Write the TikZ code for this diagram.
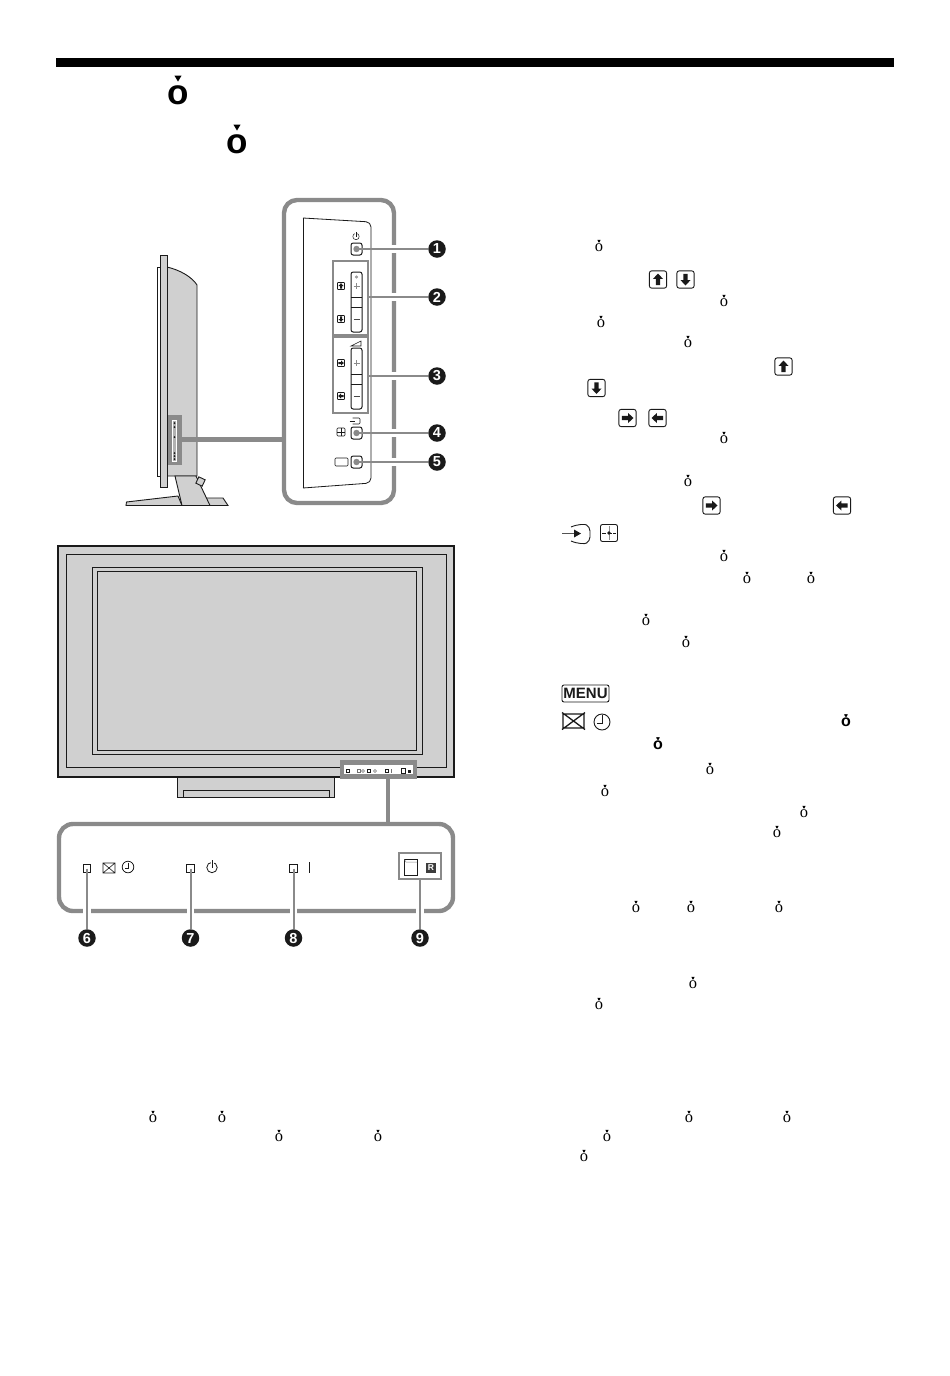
\documentclass[tikz,border=0pt]{standalone}
\usepackage{fontspec}
\setmainfont{Liberation Serif}
\newfontfamily\headfont{Liberation Sans}[BoldFont={Liberation Sans Bold}]
\usetikzlibrary{shapes.geometric}
\definecolor{callgrey}{HTML}{8A8A8A}
\definecolor{tvgrey}{HTML}{D0D0D0}
\definecolor{ink}{HTML}{1A1A1A}
\newcommand{\smallo}[2]{%
  \node[sm] (g) at (#1,#2) {ȯ};
  \fill[black] ([xshift=-1.6pt,yshift=.4pt]g.north) -- ([xshift=1.6pt,yshift=.4pt]g.north) -- ([yshift=-2.4pt]g.north) -- cycle;}
\newcommand{\boldo}[2]{%
  \node[smb] (g) at (#1,#2) {ȯ};
  \fill[black] ([xshift=-1.9pt,yshift=.6pt]g.north) -- ([xshift=1.9pt,yshift=.6pt]g.north) -- ([yshift=-2.6pt]g.north) -- cycle;}
\newcommand{\heado}[2]{%
  \node[hd] (g) at (#1,#2) {ȯ};
  \fill[white] ([xshift=-5pt,yshift=4pt]g.north) rectangle ([xshift=5pt,yshift=-5.5pt]g.north);
  \fill[black] ([xshift=-3.6pt,yshift=3.4pt]g.north) -- ([xshift=3.6pt,yshift=3.4pt]g.north) -- ([yshift=-2.6pt]g.north) -- cycle;}
\tikzset{
  x=1pt,y=-1pt,
  frameline/.style={draw=callgrey,line width=4.4pt},
  lead/.style={draw=callgrey,line width=2pt},
  leadhalo/.style={draw=white,line width=7.5pt},
  thick line/.style={draw=callgrey,line width=4.4pt},
  tvline/.style={draw=ink,line width=.9pt},
  numcircle/.style={circle,fill=ink,text=white,inner sep=0pt,minimum size=17.5pt,font=\headfont\bfseries\fontsize{14.5}{14.5}\selectfont},
  panelbtn/.style={rectangle,rounded corners=2.2pt,draw=ink,line width=1pt,fill=white,minimum width=11pt,minimum height=12pt,inner sep=0pt},
  led/.style={rectangle,draw=ink,line width=.8pt,fill=white,minimum width=7.5pt,minimum height=7.5pt,inner sep=0pt},
  sm/.style={inner sep=0pt,font=\fontsize{16.5}{16.5}\selectfont},
  smb/.style={inner sep=0pt,font=\headfont\bfseries\fontsize{16}{16}\selectfont},
  hd/.style={inner sep=0pt,font=\headfont\bfseries\fontsize{35}{35}\selectfont},
  keycap/.pic={
    \draw[draw=ink,line width=.9pt,rounded corners=2.2pt,fill=white] (-8.6,-8.6) rectangle (8.6,8.6);
    \fill[ink] (0,-6) -- (5,-.6) -- (2.2,-.6) -- (2.2,5.6) -- (-2.2,5.6) -- (-2.2,-.6) -- (-5,-.6) -- cycle;
  },
  minikey/.pic={
    \draw[draw=ink,line width=.6pt,fill=white,rounded corners=.6pt] (-3.5,-3.5) rectangle (3.5,3.5);
    \fill[ink] (0,-2.8) -- (2.6,0) -- (1,0) -- (1,2.6) -- (-1,2.6) -- (-1,0) -- (-2.6,0) -- cycle;
  }
}
\begin{document}
\begin{tikzpicture}
\useasboundingbox (0,0) rectangle (950,1376);
\fill[white] (0,0) rectangle (950,1376);
% top bar
\fill[black] (56,58) rectangle (894,67);
% heading glyphs
\heado{178}{92}
\heado{237}{141}

% ------------ side view of the set
\draw[tvline,fill=tvgrey] (167,267) .. controls (180,270) and (192,277) .. (197,285) -- (197,476) -- (167,476) -- cycle;
\draw[tvline,fill=tvgrey] (126,505.5) -- (126.5,502) -- (178,496) -- (182,505.5) -- cycle;
\draw[tvline,fill=tvgrey] (205,498) -- (223,498) -- (228,505.5) -- (209,505.5) -- cycle;
\draw[tvline,fill=tvgrey] (175,476) -- (182,505.5) -- (210,505.5) -- (196,476) -- cycle;
\draw[tvline,fill=tvgrey,rotate around={-25:(200.5,481.5)}] (197,478) rectangle (204,485);
\draw[tvline,fill=white,line width=.8pt] (157,267) rectangle (160,476);
\draw[tvline,fill=tvgrey] (160,255) rectangle (167.5,487);
\fill[callgrey] (168,415) rectangle (182,465);
\fill[white] (172,420) rectangle (177,462);
\fill[black!30] (173,421) rectangle (176,461);
\foreach \yy in {423,427,437,453,456,459}{\fill[ink] (174.5,\yy) circle (1);}
\coordinate (sidebox) at (182,439.5);

% ------------ side panel close-up
\draw[frameline,rounded corners=13pt] (284,200) rectangle (394,503);
\coordinate (panelleft) at (284,439.5);
\draw[thick line] (sidebox) -- (panelleft);
\draw[ink,line width=.8pt,rounded corners=5pt] (303,218) -- (371,222) -- (371,483) -- (303,488);
\draw[ink,line width=.8pt] (303,218) -- (303,488);

% callout boxes 2,3
\node[draw=callgrey,line width=2pt,rectangle,minimum width=35pt,minimum height=74pt,inner sep=0pt] (box2) at (350.5,298) {};
\node[draw=callgrey,line width=2pt,rectangle,minimum width=35pt,minimum height=76pt,inner sep=0pt] (box3) at (350.5,375) {};

% number circles
\node[numcircle] (n1) at (437,249) {1};
\node[numcircle] (n2) at (437,297) {2};
\node[numcircle] (n3) at (437,376) {3};
\node[numcircle] (n4) at (437,433) {4};
\node[numcircle] (n5) at (437,462) {5};

% buttons
\node[panelbtn] (b1) at (356.5,249) {};
\node[panelbtn] (b4) at (356.5,433) {};
\node[panelbtn] (b5) at (356.5,462) {};
% halos through the frame
\foreach \yy in {249,297,376,433,462}{\draw[leadhalo] (390,\yy) -- (398,\yy);}
\draw[lead] (b1.center) -- (n1);
\draw[lead] (box2.east|-n2) -- (n2);
\draw[lead] (box3.east|-n3) -- (n3);
\draw[lead] (b4.center) -- (n4);
\draw[lead] (b5.center) -- (n5);
\foreach \b in {b1,b4,b5}{\fill[callgrey] (\b) circle (3.2);}

% rockers
\draw[draw=ink,line width=1pt,rounded corners=2.2pt,fill=white] (351,272) rectangle (362,332);
\draw[ink,line width=.8pt] (351,297) -- (362,297) (351,307) -- (362,307);
\draw[draw=ink,line width=1pt,rounded corners=2.2pt,fill=white] (351,348) rectangle (362,409);
\draw[ink,line width=.8pt] (351,374) -- (362,374) (351,384) -- (362,384);
\foreach \yy in {286,363}{\draw[callgrey,line width=1pt] (353.5,\yy) -- (359.5,\yy) (356.5,\yy-3) -- (356.5,\yy+3);}
\foreach \yy in {319,396}{\draw[ink!80,line width=.9pt] (353.5,\yy) -- (359.5,\yy);}
\draw[callgrey,line width=.6pt] (356.5,277) circle (1.1);
\draw[ink,line width=.6pt] (351,346) -- (361,346) -- (361,341) -- cycle;
\pic at (341,286) {minikey};
\pic[rotate=180] at (341,319) {minikey};
\pic[rotate=-90] at (341,363) {minikey};
\pic[rotate=90] at (341,396) {minikey};

% power sign over button 1
\draw[ink,line width=.5pt] (356,236.5) circle (3.2);
\draw[white,line width=2pt] (356,232.5) -- (356,234.5);
\draw[ink,line width=.5pt] (356,232) -- (356,236.5);
% input sign over button 4
\draw[ink,line width=.6pt] (349.5,421) -- (355,421);
\draw[ink,line width=.6pt,rounded corners=1pt] (352.5,418) -- (360,418) -- (360,424) -- (352.5,424);
% square plus
\draw[ink,line width=.6pt,rounded corners=1pt] (337,428) rectangle (345,436);
\draw[ink,line width=.5pt] (341,428) -- (341,436) (337,432) -- (345,432);
% blank label
\draw[ink,line width=.6pt,rounded corners=1pt] (335,458) rectangle (348,466);

% ------------ front view of the set
\draw[draw=ink,line width=1pt,fill=tvgrey] (177.5,777) rectangle (334,797);
\draw[ink,line width=.7pt] (183,797) -- (183,790) -- (329,790) -- (329,797);
\draw[draw=ink,line width=1.1pt,fill=tvgrey] (58,546) rectangle (454,777);
\draw[ink,line width=.8pt] (66,554) rectangle (446,767);
\draw[ink,line width=.8pt] (92,567) rectangle (422,754);
\draw[ink,line width=.8pt] (97,571) rectangle (416,750);
\node[draw=callgrey,line width=4.4pt,fill=white,rectangle,minimum width=72.5pt,minimum height=14pt,inner sep=0pt] (frontbox) at (378.5,769.5) {};
\foreach \xx in {348,369,387}{\draw[ink,line width=.8pt] (\xx-1.3,769.7) rectangle (\xx+1.3,772.3);}
\draw[black!55,line width=.5pt] (357.5,769.5) rectangle (360.5,772.5);
\draw[black!55,line width=.5pt] (363,771) circle (1.5);
\draw[black!55,line width=.5pt] (375,771) circle (1.5);
\draw[black!55,line width=.5pt] (391,769) -- (391,773);
\draw[ink,line width=.6pt] (401,768.5) rectangle (405,773.5);
\fill[ink] (407.5,769.5) rectangle (410.5,772.5);

% ------------ front panel close-up
\draw[frameline,rounded corners=14pt] (59,824) rectangle (453,911);
\draw[thick line] (388,778) -- (388,822);
\node[led] (l6) at (87,868.5) {};
\node[led] (l7) at (190.5,868.5) {};
\node[led] (l8) at (293.5,868.5) {};
\node[draw=callgrey,line width=2pt,rectangle,minimum width=42pt,minimum height=26pt,inner sep=0pt] (box9) at (419.5,866) {};
\node[numcircle] (n6) at (87,938) {6};
\node[numcircle] (n7) at (190.5,938) {7};
\node[numcircle] (n8) at (293.5,938) {8};
\node[numcircle] (n9) at (420,938) {9};
\foreach \xx in {87,190.5,293.5,420}{\draw[leadhalo] (\xx,907) -- (\xx,915);}
\draw[lead] (l6.center) -- (n6);
\draw[lead] (l7.center) -- (n7);
\draw[lead] (l8.center) -- (n8);
\draw[lead] (box9.south-|n9) -- (n9);
% icons
\draw[ink,line width=.6pt] (103,863) rectangle (115,873) (103,863) -- (115,873) (103,873) -- (115,863);
\draw[ink,line width=.8pt] (128,867) circle (5.8);
\draw[ink,line width=.8pt] (128,862.5) -- (128,868) -- (124.5,868);
\draw[ink,line width=.8pt] (212,867.5) circle (5.2);
\draw[white,line width=3pt] (212,861) -- (212,864);
\draw[ink,line width=.8pt] (212,860) -- (212,867.5);
\draw[ink,line width=.8pt] (309.5,862) -- (309.5,873);
\draw[ink,line width=.9pt,fill=white] (404,859) rectangle (417,875);
\draw[callgrey,line width=.5pt] (404.5,859.5) -- (406,862) -- (417,862);
\node[rectangle,fill=ink!85,text=white,inner sep=0pt,minimum width=10pt,minimum height=10pt,font=\headfont\bfseries\fontsize{8.5}{8.5}\selectfont] (rmark) at (431,868) {R};

% ------------ key symbols in the right-hand column
\pic at (658,279.5) {keycap};
\pic[rotate=180] at (685.5,279.5) {keycap};
\pic at (783.5,366.5) {keycap};
\pic[rotate=180] at (596.5,388) {keycap};
\pic[rotate=-90] at (627.5,418) {keycap};
\pic[rotate=90] at (657.5,418) {keycap};
\pic[rotate=-90] at (711.5,505.5) {keycap};
\pic[rotate=90] at (842,505.5) {keycap};
% input key
\draw[ink,line width=.9pt,rounded corners=4pt] (571,527) .. controls (578,524) and (585,524) .. (590,527) -- (590,541) .. controls (585,544) and (578,544) .. (571,541);
\draw[callgrey!60!black,line width=1.2pt] (562,533.5) -- (576,533.5);
\fill[ink] (581,533.5) -- (574,529.5) -- (574,537.5) -- cycle;
% square-plus key
\draw[draw=ink,line width=.9pt,rounded corners=2pt] (600.5,524.5) rectangle (617.5,541.5);
\draw[callgrey,line width=.8pt] (609,526) -- (609,540);
\draw[ink,line width=.8pt,dash pattern=on 4pt off 1.5pt] (602,533) -- (616,533);
\fill[ink] (609,533) circle (1.8);
% MENU key
\node[rectangle,rounded corners=2pt,draw=ink,line width=.9pt,minimum width=47pt,minimum height=17pt,inner sep=0pt,font=\headfont\bfseries\fontsize{15}{15}\selectfont,text=ink] (menu) at (585.5,693.5) {MENU};
% crossed-box and clock
\draw[ink,line width=1.3pt] (563,714) rectangle (584,728) (562,712.5) -- (585,729.5) (562,729.5) -- (585,712.5);
\draw[ink,line width=.9pt] (602,722) circle (8);
\draw[ink,line width=1pt] (602,715) -- (602,723.5) -- (596.5,723.5);

% ------------ small letters
\foreach \xx/\yy in {599/246,724/301,601/322,688/342,724/438,688/481,724/556,747/578,811/578,646/620,686/642,
  710/769,605/791,804/812,777/832,636/907,691/907,779/907,693/983,599/1004,689/1117,787/1117,607/1136,584/1156,
  153/1117,222/1117,279/1136,378/1136}{\smallo{\xx}{\yy}}
\boldo{846}{721}
\boldo{658}{744}
\end{tikzpicture}
\end{document}
